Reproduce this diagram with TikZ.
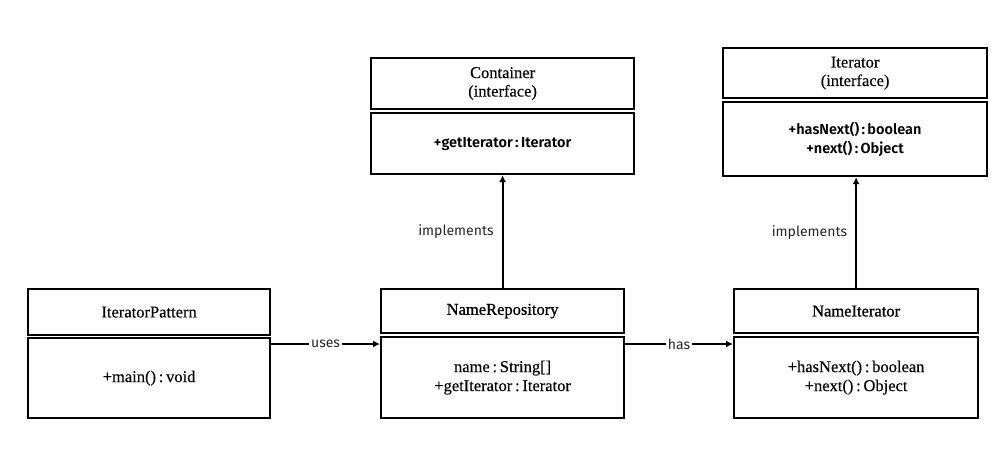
\documentclass[tikz,border=0pt]{standalone}
\usepackage{fontspec}
\setmainfont{Liberation Serif}[FakeBold=0.3]
\newfontfamily\semiserif{Liberation Serif}[FakeBold=1.0]
\newfontfamily\labfont{Fira Sans}
\newfontfamily\memfont{Fira Sans}[UprightFont=* SemiBold]
\usetikzlibrary{arrows.meta,calc}
\tikzset{
  box/.style={draw=black, line width=2.2pt, rectangle, inner sep=0pt, align=center, anchor=north west},
  ttl/.style={box, font=\fontsize{16.5}{18.5}\selectfont},
  sttl/.style={box, font=\semiserif\fontsize{16.5}{18.5}\selectfont},
  bdy/.style={box, font=\fontsize{16.5}{19}\selectfont},
  ibdy/.style={box, font=\memfont\fontsize{14.5}{19}\selectfont},
  arr/.style={draw=black, line width=2pt, -{Latex[length=7pt,width=7pt]}},
  lab/.style={font=\labfont\fontsize{14}{16}\selectfont, text=black!85, inner sep=2pt},
}
\begin{document}
\begin{tikzpicture}[x=1pt,y=-1pt]
\useasboundingbox (0,0) rectangle (1007,466);
% Container
\node[ttl, minimum width=263pt, minimum height=51pt] (cT) at (370,57) {Container\\(interface)};
\node[ibdy, minimum width=263pt, minimum height=61pt] (cB) at (370,112) {+getIterator\,:\,Iterator};
% Iterator
\node[ttl, minimum width=264pt, minimum height=50pt] (iT) at (722,47) {Iterator\\(interface)};
\node[ibdy, minimum width=264pt, minimum height=74pt] (iB) at (722,101) {+hasNext()\,:\,boolean\\+next()\,:\,Object};
% IteratorPattern
\node[ttl, minimum width=242pt, minimum height=46pt] (pT) at (27,288) {IteratorPattern};
\node[bdy, minimum width=242pt, minimum height=80pt] (pB) at (27,337) {+main()\,:\,void};
% NameRepository
\node[sttl, minimum width=243pt, minimum height=44pt] (rT) at (380,288) {NameRepository};
\node[bdy, minimum width=243pt, minimum height=81pt] (rB) at (380,336) {name\,:\,String[]\\+getIterator\,:\,Iterator};
% NameIterator
\node[sttl, minimum width=244pt, minimum height=44pt] (nT) at (733,288) {NameIterator};
\node[bdy, minimum width=244pt, minimum height=81pt] (nB) at (733,336) {+hasNext()\,:\,boolean\\+next()\,:\,Object};
% connectors
\draw[arr] ($(pB.north east)+(0,7)$) -- node[lab, fill=white, midway] {uses} ($(rB.north west)+(0,8)$);
\draw[arr] ($(rB.north east)+(0,8)$) -- node[lab, fill=white, midway] {has} ($(nB.north west)+(0,8)$);
\draw[arr] (rT.north) -- node[lab, midway, left, xshift=-6pt] {implements} (cB.south);
\draw[arr] (nT.north) -- node[lab, midway, left, xshift=-6pt] {implements} (nT.north |- iB.south);
\end{tikzpicture}
\end{document}
